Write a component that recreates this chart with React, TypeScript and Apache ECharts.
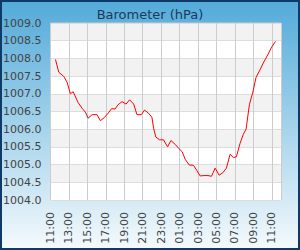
import React, { useEffect, useRef } from "react";
import * as echarts from "echarts";

// hours after 11:00 (first day)
const hours = [
  0.54, 0.9, 1.44, 1.81, 2.16, 2.46, 3.0, 3.43, 3.79, 4.08,
  4.51, 5.05, 5.41, 5.84, 6.28, 6.63, 7.0, 7.33, 7.76, 8.19,
  8.58, 9.02, 9.38, 9.85, 10.2, 10.64, 11.0, 11.18, 11.42, 11.83,
  12.26, 12.7, 13.06, 13.53, 13.93, 14.29, 14.61, 15.04, 15.51, 15.88,
  16.23, 16.65, 17.08, 17.46, 17.86, 18.29, 18.69, 19.08, 19.48, 19.84,
  20.16, 20.56, 20.92, 21.21, 21.57, 21.94, 22.29, 22.73, 23.08, 23.56,
  23.99, 24.4,
];
const pressure = [
  1007.97, 1007.61, 1007.49, 1007.32, 1007.0, 1007.06, 1006.75, 1006.59, 1006.48, 1006.31,
  1006.41, 1006.41, 1006.24, 1006.33, 1006.46, 1006.58, 1006.57, 1006.69, 1006.78, 1006.71,
  1006.83, 1006.71, 1006.41, 1006.41, 1006.54, 1006.45, 1006.34, 1006.03, 1005.78, 1005.7,
  1005.7, 1005.5, 1005.68, 1005.57, 1005.45, 1005.36, 1005.15, 1004.99, 1004.98, 1004.83,
  1004.68, 1004.69, 1004.69, 1004.67, 1004.9, 1004.7, 1004.77, 1004.9, 1005.29, 1005.2,
  1005.22, 1005.6, 1005.86, 1006.0, 1006.69, 1007.04, 1007.46, 1007.68, 1007.87, 1008.1,
  1008.32, 1008.48,
];
const startHour = 11;
const titleText = "Barometer (hPa)";

export default function App() {
  const ref = useRef<HTMLDivElement>(null);
  useEffect(() => {
    document.body.style.margin = "0";
    if (!ref.current) return;
    const chart = echarts.init(ref.current, undefined, { renderer: "svg" });
    const font = "DejaVu Sans";
    chart.setOption({
      animation: false,
      backgroundColor: new echarts.graphic.LinearGradient(0, 0, 0, 1, [
        { offset: 0, color: "#52aad9" },
        { offset: 1, color: "#f5fafd" },
      ]),
      title: {
        text: titleText,
        left: "center",
        top: 3,
        textStyle: { fontFamily: font, fontSize: 13, fontWeight: "normal", color: "#1a3a5c" },
      },
      graphic: [
        {
          type: "rect",
          shape: { x: 1, y: 1, width: 298, height: 248 },
          style: { fill: "none", stroke: "#0d3a66", lineWidth: 2 },
          silent: true,
          z: 100,
        },
      ],
      grid: {
        left: 50,
        right: 19,
        top: 23,
        bottom: 50,
        show: true,
        backgroundColor: "#ffffff",
        borderColor: "#cccccc",
        borderWidth: 1,
      },
      xAxis: {
        type: "value",
        min: 0,
        max: 25,
        interval: 2,
        axisLine: { show: false },
        axisTick: { show: false },
        splitLine: { show: true, lineStyle: { color: "#cccccc", width: 1 } },
        axisLabel: {
          rotate: 90,
          margin: 12,
          showMaxLabel: false,
          fontFamily: font,
          fontSize: 11,
          color: "#444444",
          formatter: (v: number) => String((v + startHour) % 24).padStart(2, "0") + ":00",
        },
      },
      yAxis: {
        type: "value",
        min: 1004,
        max: 1009,
        interval: 0.5,
        axisLine: { show: false },
        axisTick: { show: false },
        splitLine: { show: true, lineStyle: { color: "#dddddd", width: 1 } },
        splitArea: { show: true, areaStyle: { color: ["#ffffff", "#f2f2f2"] } },
        axisLabel: {
          margin: 9,
          fontFamily: font,
          fontSize: 11,
          color: "#444444",
          formatter: (v: number) => v.toFixed(1),
        },
      },
      series: [
        {
          type: "line",
          data: hours.map((h, i) => [h, pressure[i]]),
          showSymbol: false,
          lineStyle: { color: "#ff0000", width: 1 },
          itemStyle: { color: "#ff0000" },
        },
      ],
    });
    return () => chart.dispose();
  }, []);
  return <div ref={ref} style={{ width: 300, height: 250 }} />;
}
